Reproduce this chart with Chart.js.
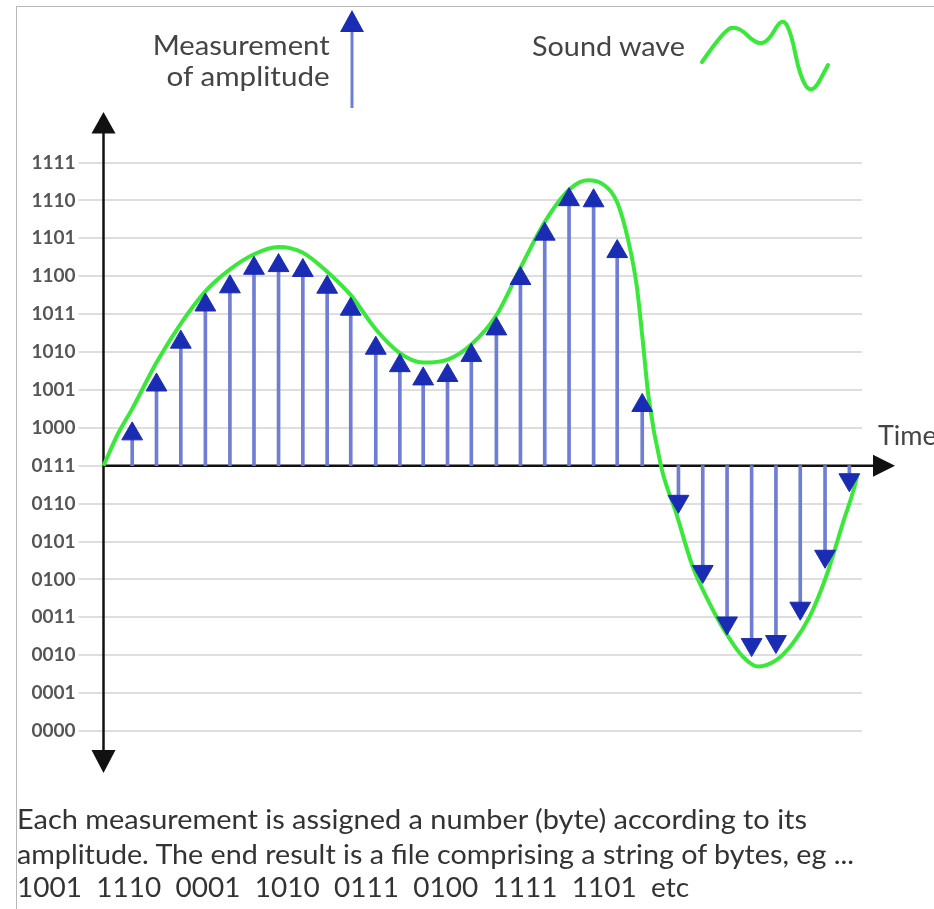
<!DOCTYPE html>
<html><head><meta charset="utf-8">
<script src="https://cdn.jsdelivr.net/npm/chart.js@4.4.1/dist/chart.umd.min.js"></script>
<style>
html,body{margin:0;padding:0;background:#fff;overflow:hidden}
#wrap{position:relative;width:934px;height:909px;overflow:hidden}
canvas{position:absolute;left:0;top:0}
.t{position:absolute;white-space:pre;font-family:Lato,'Open Sans',sans-serif;line-height:1}
.lg{color:#444;font-size:27px}
.cap{color:#333;font-size:26px;left:17px}
.ft{position:absolute;left:16px;top:6px;width:918px;border-top:1.5px solid #b8b8b8}
.fl{position:absolute;left:16px;top:6px;height:903px;border-left:1.5px solid #b8b8b8}
</style></head>
<body><div id="wrap">
<canvas id="c" width="934" height="909"></canvas>
<div class="ft"></div><div class="fl"></div>
<div class="t lg" data-w="177" data-a="r" style="right:604px;top:31px">Measurement</div>
<div class="t lg" data-w="163" data-a="r" style="right:604px;top:62px">of amplitude</div>
<div class="t lg" data-w="153" style="left:532px;top:32px">Sound wave</div>
<div class="t lg" style="left:878px;top:421px">Time</div>
<div class="t cap" data-w="790" style="top:806px">Each measurement is assigned a number (byte) according to its</div>
<div class="t cap" data-w="837" style="top:841px">amplitude. The end result is a file comprising a string of bytes, eg ...</div>
<div class="t cap" data-w="672" style="top:874px">1001  1110  0001  1010  0111  0100  1111  1101  etc</div>
</div>
<script>
// binary level labels, bottom to top
const TICK_LABELS=['0000','0001','0010','0011','0100','0101','0110','0111','1000','1001','1010','1011','1100','1101','1110','1111'];
const AXIS_LEVEL=7; // the time axis sits on 0111

// sample instants (time units) and measured levels
const SAMPLE_T=[1.18,2.18,3.18,4.19,5.2,6.19,7.2,8.2,9.2,10.17,11.2,12.19,13.15,14.15,15.13,16.16,17.15,18.15,19.15,20.16,21.13,22.16,
                23.65,24.65,25.65,26.66,27.66,28.66,29.68,30.68];
const SAMPLE_V=[7.84,9.13,10.26,11.24,11.72,12.21,12.28,12.15,11.71,11.13,10.1,9.64,9.29,9.38,9.91,10.61,11.94,13.11,14.02,13.99,12.65,8.59,
                6.06,4.21,2.85,2.28,2.36,3.24,4.61,6.63];

// the sound wave
const WAVE_T=[0,0.6,1.18,2.18,3.18,4.19,5.2,6.19,7.2,8.2,9.2,10.17,11.2,12.19,13.15,14.15,15.13,16.16,17.15,18.15,19.15,19.9,20.6,21.13,21.6,21.93,22.18,22.42,22.94,23.56,24.24,24.93,25.61,26.3,26.91,27.67,28.35,29.04,29.72,30.41,30.96,31.01];
const WAVE_V=[7,7.85,8.5,9.72,10.75,11.6,12.18,12.58,12.77,12.62,12.12,11.5,10.6,9.97,9.72,9.8,10.2,10.97,12.22,13.43,14.28,14.53,14.4,13.95,12.9,11.76,10.31,8.81,6.97,5.74,4.33,3.37,2.58,1.96,1.7,1.87,2.31,3.01,4.07,5.48,6.62,6.78];

const BLUE='#1a2cb4', STEM='#6f7ed4', GREEN='#3ae83a';

function triV(ctx,x,tip,base,hw){ctx.beginPath();ctx.moveTo(x,tip);ctx.lineTo(x-hw,base);ctx.lineTo(x+hw,base);ctx.closePath();ctx.fill();}
function triH(ctx,y,tip,base,hh){ctx.beginPath();ctx.moveTo(tip,y);ctx.lineTo(base,y-hh);ctx.lineTo(base,y+hh);ctx.closePath();ctx.fill();}

const axes={id:'axes',
  beforeDatasetsDraw(ch){
    const {ctx,chartArea:a,scales:{y}}=ch;
    const y0=y.getPixelForValue(AXIS_LEVEL);
    ctx.save();
    ctx.strokeStyle='#111';ctx.fillStyle='#111';ctx.lineWidth=2.5;
    ctx.beginPath();ctx.moveTo(a.left,a.top-35);ctx.lineTo(a.left,a.bottom+25);ctx.stroke();
    triV(ctx,a.left,a.top-50.5,a.top-29,12);
    triV(ctx,a.left,a.bottom+42,a.bottom+19,12);
    ctx.beginPath();ctx.moveTo(a.left,y0);ctx.lineTo(a.right+14,y0);ctx.stroke();
    triH(ctx,y0,a.right+33,a.right+11,11);
    ctx.restore();
  },
  afterDraw(ch){
    const ctx=ch.ctx;
    ctx.save();
    // legend: measurement arrow
    ctx.strokeStyle=STEM;ctx.lineWidth=3;
    ctx.beginPath();ctx.moveTo(352,108);ctx.lineTo(352,30);ctx.stroke();
    ctx.fillStyle=BLUE;triV(ctx,352,10,32,12);
    // legend: sound wave squiggle
    const p=[[702,62],[724,30],[738,26],[756,44],[768,42],[782,17],[791,32],[800,77],[812,95],[828,65]];
    ctx.strokeStyle=GREEN;ctx.lineWidth=4;ctx.lineCap='round';
    ctx.beginPath();ctx.moveTo(p[0][0],p[0][1]);
    for(let i=1;i<p.length-1;i++){const mx=(p[i][0]+p[i+1][0])/2,my=(p[i][1]+p[i+1][1])/2;ctx.quadraticCurveTo(p[i][0],p[i][1],mx,my);}
    ctx.lineTo(p[p.length-1][0],p[p.length-1][1]);ctx.stroke();
    ctx.restore();
  }
};

new Chart(document.getElementById('c'),{
  data:{datasets:[
    {type:'scatter',label:'Measurement of amplitude',data:SAMPLE_T.map((t,i)=>({x:t,y:SAMPLE_V[i]})),
     pointStyle:'triangle',pointRadius:12,pointHoverRadius:12,
     pointRotation:c=>(c.raw&&c.raw.y<AXIS_LEVEL)?180:0,
     backgroundColor:BLUE,borderColor:BLUE,borderWidth:1,order:0,clip:false},
    {type:'line',label:'Sound wave',data:WAVE_T.map((t,i)=>({x:t,y:WAVE_V[i]})),
     borderColor:GREEN,borderWidth:4,pointRadius:0,cubicInterpolationMode:'monotone',order:1,clip:false},
    {type:'bar',label:'stems',data:SAMPLE_T.map((t,i)=>({x:t,y:[AXIS_LEVEL,SAMPLE_V[i]]})),
     backgroundColor:STEM,borderWidth:0,barThickness:3,order:2}
  ]},
  options:{responsive:false,animation:false,
    layout:{padding:{top:162.5,bottom:178,left:0,right:72}},
    plugins:{legend:{display:false},tooltip:{enabled:false}},
    scales:{
      x:{type:'linear',min:0,max:31.2,display:false,offset:false,grid:{display:false}},
      y:{type:'linear',min:0,max:15,
         ticks:{stepSize:1,autoSkip:false,callback:v=>TICK_LABELS[v],font:{family:'Lato',size:19,weight:'bold'},color:'#555',padding:3},
         grid:{color:'#dedede',lineWidth:2,tickLength:25},
         border:{display:false},
         afterFit:s=>{s.width=103.5}}
    }
  },
  plugins:[axes]
});

// stretch text to the widths seen in the picture
document.fonts.ready.then(()=>{
  document.querySelectorAll('.t[data-w]').forEach(el=>{
    const w=el.getBoundingClientRect().width;
    el.style.transformOrigin=el.dataset.a==='r'?'right top':'left top';
    el.style.transform='scaleX('+(el.dataset.w/w)+')';
  });
});
</script>
</body></html>
